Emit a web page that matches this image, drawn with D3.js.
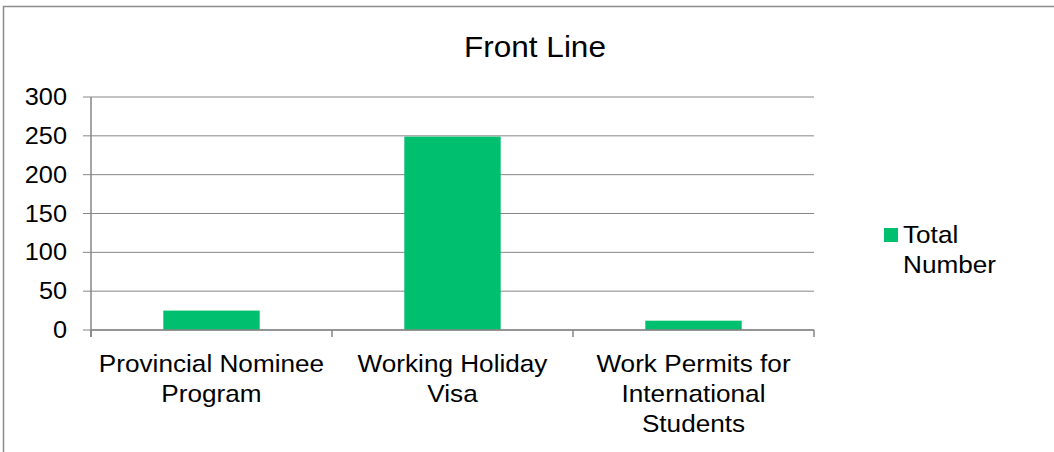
<!DOCTYPE html>
<html>
<head>
<meta charset="utf-8">
<script src="https://cdn.jsdelivr.net/npm/d3@7"></script>
<style>
  body { margin: 0; background: #fff; }
  text { font-family: "Liberation Sans", Arial, sans-serif; fill: #000; }
</style>
</head>
<body>
<div id="chart"></div>
<script>
var categories = [
  ["Provincial Nominee", "Program"],
  ["Working Holiday", "Visa"],
  ["Work Permits for", "International", "Students"]
];
var values = [25, 249, 12];
var yTicks = [0, 50, 100, 150, 200, 250, 300];
var seriesName = ["Total", "Number"];
var title = "Front Line";

var W = 1054, H = 452;
var margin = {top: 97, left: 91, right: 240, bottom: 122};
var width = W - margin.left - margin.right,
    height = H - margin.top - margin.bottom;

// the reference text is a bit wider than Arial, so stretch it horizontally
var sx = 1.09;

var svg = d3.select("#chart")
  .append("svg")
    .attr("width", W)
    .attr("height", H);

// outer chart border (only top and left visible)
svg.append("rect")
  .attr("x", 3.5).attr("y", 6.5)
  .attr("width", 1080).attr("height", 480)
  .attr("fill", "none")
  .attr("stroke", "#8c8c8c")
  .attr("stroke-width", 1.5);

svg.append("text")
  .attr("transform", "translate(535,57) scale(1.05,1)")
  .attr("text-anchor", "middle")
  .attr("font-size", 30)
  .text(title);

var g = svg.append("g")
  .attr("transform", "translate(" + margin.left + "," + margin.top + ")");

var x = d3.scaleBand()
  .domain(d3.range(categories.length))
  .range([0, width])
  .paddingInner(0.6)
  .paddingOuter(0.3);

var y = d3.scaleLinear()
  .domain([0, 300])
  .range([height, 0]);

// gridlines + y ticks
g.selectAll(".grid")
  .data(yTicks)
  .enter().append("line")
    .attr("x1", -8).attr("x2", width)
    .attr("y1", d => y(d)).attr("y2", d => y(d))
    .attr("stroke", "#868686")
    .attr("stroke-width", 1);

g.selectAll(".ylab")
  .data(yTicks)
  .enter().append("text")
    .attr("transform", d => "translate(-24," + (y(d) + 8) + ") scale(1.1,1)")
    .attr("text-anchor", "end")
    .attr("font-size", 23)
    .text(d => d);

// bars
g.selectAll("rect.bar")
  .data(values)
  .enter().append("rect")
    .attr("x", (d, i) => x(i))
    .attr("y", d => y(d))
    .attr("width", x.bandwidth())
    .attr("height", d => height - y(d))
    .attr("fill", "#00bf6f");

// y axis line
g.append("line")
  .attr("x1", 0).attr("x2", 0)
  .attr("y1", 0).attr("y2", height + 7)
  .attr("stroke", "#868686").attr("stroke-width", 1.5);

// x axis line + category ticks
g.append("line")
  .attr("x1", 0).attr("x2", width)
  .attr("y1", height).attr("y2", height)
  .attr("stroke", "#868686").attr("stroke-width", 1.5);

var step = x.step();
g.selectAll(".xtick")
  .data(d3.range(categories.length + 1))
  .enter().append("line")
    .attr("x1", i => i * step).attr("x2", i => i * step)
    .attr("y1", height).attr("y2", height + 7)
    .attr("stroke", "#868686").attr("stroke-width", 1.5);

// category labels
var labs = g.selectAll(".xlab")
  .data(categories)
  .enter().append("text")
    .attr("text-anchor", "middle")
    .attr("font-size", 24)
    .attr("transform", (d, i) => "translate(" + (x(i) + x.bandwidth() / 2) + "," + (height + 42) + ") scale(" + sx + ",1)");
labs.selectAll("tspan")
  .data(d => d)
  .enter().append("tspan")
    .attr("x", 0)
    .attr("y", (d, j) => j * 30)
    .text(d => d);

// legend
svg.append("rect")
  .attr("x", 884).attr("y", 228)
  .attr("width", 14).attr("height", 14)
  .attr("fill", "#00bf6f");
svg.append("text")
  .attr("transform", "translate(903,243) scale(" + sx + ",1)")
  .attr("font-size", 24)
  .selectAll("tspan")
  .data(seriesName)
  .enter().append("tspan")
    .attr("x", 0)
    .attr("y", (d, j) => j * 30)
    .text(d => d);
</script>
</body>
</html>
